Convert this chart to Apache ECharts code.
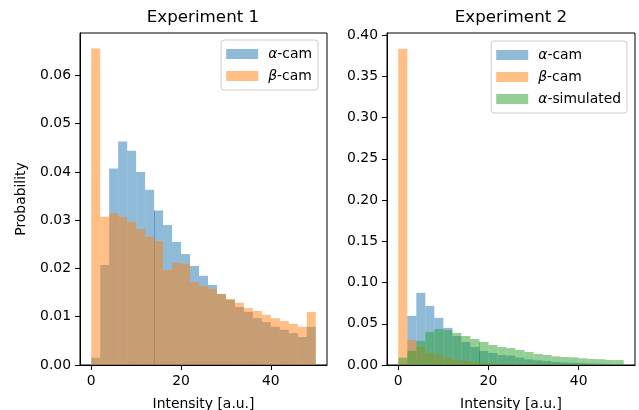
<!DOCTYPE html>
<html>
<head>
<meta charset="utf-8">
<script src="https://cdn.jsdelivr.net/npm/echarts@6/dist/echarts.min.js"></script>
<style>
  html, body { margin: 0; padding: 0; background: #fff; }
  #chart { width: 639px; height: 410px; }
</style>
</head>
<body>
<div id="chart"></div>
<script>
// bin left edges, every bin is 2 units wide
var bins = [0, 2, 4, 6, 8, 10, 12, 14, 16, 18, 20, 22, 24, 26, 28, 30, 32, 34, 36, 38, 40, 42, 44, 46, 48];
var binWidth = 2;

// Experiment 1
var exp1Alpha = [0.0015, 0.0207, 0.0407, 0.0463, 0.0444, 0.0400, 0.0363, 0.0320, 0.0290, 0.0255, 0.0230, 0.0205, 0.0185,
                 0.0166, 0.0147, 0.0135, 0.0120, 0.0110, 0.0097, 0.0089, 0.0079, 0.0073, 0.0066, 0.0058, 0.0079];
var exp1Beta = [0.0656, 0.0307, 0.0315, 0.0307, 0.0297, 0.0282, 0.0266, 0.0257, 0.0197, 0.0212, 0.0210, 0.0172, 0.0164,
                0.0158, 0.0147, 0.0137, 0.0129, 0.0118, 0.0112, 0.0104, 0.0097, 0.0091, 0.0085, 0.0079, 0.0110];

// Experiment 2
var exp2Alpha = [0.0000, 0.0595, 0.0875, 0.0717, 0.0571, 0.0450, 0.0352, 0.0280, 0.0219, 0.0170, 0.0146, 0.0122, 0.0115,
                 0.0089, 0.0069, 0.0057, 0.0049, 0.0036, 0.0030, 0.0026, 0.0022, 0.0018, 0.0015, 0.0012, 0.0010];
var exp2Beta = [0.3834, 0.0304, 0.0219, 0.0146, 0.0122, 0.0085, 0.0060, 0.0050, 0.0036, 0.0024, 0.0020, 0.0016, 0.0013,
                0.0011, 0.0010, 0.0009, 0.0008, 0.0007, 0.0006, 0.0006, 0.0005, 0.0005, 0.0004, 0.0004, 0.0004];
var exp2Sim = [0.0089, 0.0170, 0.0292, 0.0401, 0.0437, 0.0425, 0.0389, 0.0352, 0.0316, 0.0280, 0.0243, 0.0219, 0.0205,
               0.0182, 0.0158, 0.0134, 0.0122, 0.0105, 0.0097, 0.0093, 0.0081, 0.0073, 0.0070, 0.0061, 0.0060];

// tick labels
var xTicks = [0, 20, 40];
var y1Ticks = [0, 0.01, 0.02, 0.03, 0.04, 0.05, 0.06];
var y2Ticks = [0, 0.05, 0.10, 0.15, 0.20, 0.25, 0.30, 0.35, 0.40];

// thin seams where bar edges overlap: [x, top of blue/green, top of orange]
var seam1 = [14, 0.0320, 0.0257];
var seam2 = [18, 0.0280, 0.0170];

var FONT = 'DejaVu Sans';
var colAlpha = 'rgba(31,119,180,0.5)';
var colBeta = 'rgba(255,127,14,0.5)';
var colSim = 'rgba(44,160,44,0.5)';

function histData(values) {
  var out = [];
  for (var i = 0; i < bins.length; i++) {
    out.push([bins[i], bins[i] + binWidth, values[i]]);
  }
  return out;
}

function renderBar(params, api) {
  var p0 = api.coord([api.value(0), api.value(2)]);
  var p1 = api.coord([api.value(1), 0]);
  return {
    type: 'rect',
    shape: { x: p0[0], y: p0[1], width: p1[0] - p0[0], height: p1[1] - p0[1] },
    style: { fill: api.visual('color') }
  };
}

function seamLine(x, top, color) {
  return {
    silent: true,
    symbol: 'none',
    label: { show: false },
    lineStyle: { color: color, width: 1, type: 'solid' },
    data: [[{ coord: [x, 0] }, { coord: [x, top] }]]
  };
}

function histSeries(name, values, color, idx, seam) {
  return {
    type: 'custom',
    name: name,
    xAxisIndex: idx,
    yAxisIndex: idx,
    renderItem: renderBar,
    encode: { x: [0, 1], y: 2 },
    itemStyle: { color: color },
    data: histData(values),
    markLine: seam
  };
}

function xAxisOpt(idx) {
  return {
    type: 'value',
    gridIndex: idx,
    min: -2.5,
    max: 52.5,
    name: 'Intensity [a.u.]',
    nameLocation: 'middle',
    nameGap: 32,
    nameTextStyle: { fontFamily: FONT, fontSize: 13.9, color: '#000' },
    axisLine: { show: true, onZero: false, lineStyle: { color: '#000', width: 1 } },
    axisTick: { show: true, inside: false, length: 5, customValues: xTicks, lineStyle: { color: '#000', width: 1 } },
    axisLabel: { customValues: xTicks, margin: 9, fontFamily: FONT, fontSize: 13.9, color: '#000' },
    splitLine: { show: false }
  };
}

function yAxisOpt(idx, max, ticks) {
  var o = {
    type: 'value',
    gridIndex: idx,
    min: 0,
    max: max,
    axisLine: { show: true, onZero: false, lineStyle: { color: '#000', width: 1 } },
    axisTick: { show: true, inside: false, length: 5, customValues: ticks, lineStyle: { color: '#000', width: 1 } },
    axisLabel: {
      customValues: ticks, margin: 9, fontFamily: FONT, fontSize: 13.9, color: '#000',
      formatter: function (v) { return v.toFixed(2); }
    },
    splitLine: { show: false }
  };
  if (idx === 0) {
    o.name = 'Probability';
    o.nameLocation = 'middle';
    o.nameGap = 52;
    o.nameTextStyle = { fontFamily: FONT, fontSize: 13.9, color: '#000' };
  }
  return o;
}

function legendOpt(names, right, top) {
  return {
    data: names,
    right: right,
    top: top,
    orient: 'vertical',
    icon: 'rect',
    itemWidth: 32,
    itemHeight: 10,
    itemGap: 8,
    padding: [7, 6, 7, 5],
    backgroundColor: 'rgba(255,255,255,0.8)',
    borderColor: '#cccccc',
    borderWidth: 1,
    borderRadius: 3,
    selectedMode: false,
    formatter: function (name) {
      return '{i|' + name.charAt(0) + '}' + name.slice(1);
    },
    textStyle: {
      fontFamily: FONT, fontSize: 13.9, color: '#000', lineHeight: 14, padding: [0, 0, 0, 5],
      rich: { i: { fontFamily: FONT, fontSize: 13.9, fontStyle: 'italic', color: '#000' } }
    }
  };
}

var chart = echarts.init(document.getElementById('chart'), null, { renderer: 'canvas' });

var option = {
  animation: false,
  backgroundColor: '#fff',
  title: [
    { text: 'Experiment 1', left: 203, top: 8, textAlign: 'center', padding: 0,
      textStyle: { fontFamily: FONT, fontSize: 16.7, fontWeight: 'normal', color: '#000', lineHeight: 20 } },
    { text: 'Experiment 2', left: 511, top: 8, textAlign: 'center', padding: 0,
      textStyle: { fontFamily: FONT, fontSize: 16.7, fontWeight: 'normal', color: '#000', lineHeight: 20 } }
  ],
  legend: [
    legendOpt(['α-cam', 'β-cam'], 321, 40),
    legendOpt(['α-cam', 'β-cam', 'α-simulated'], 12, 41)
  ],
  grid: [
    { left: 80, right: 312, top: 33, bottom: 45, show: true, borderColor: '#000', borderWidth: 1,
      backgroundColor: 'transparent', outerBoundsMode: 'none' },
    { left: 387, right: 4, top: 33, bottom: 45, show: true, borderColor: '#000', borderWidth: 1,
      backgroundColor: 'transparent', outerBoundsMode: 'none' }
  ],
  xAxis: [xAxisOpt(0), xAxisOpt(1)],
  yAxis: [yAxisOpt(0, 0.0688, y1Ticks), yAxisOpt(1, 0.4025, y2Ticks)],
  series: [
    histSeries('α-cam', exp1Alpha, colAlpha, 0, seamLine(seam1[0], seam1[1], colAlpha)),
    histSeries('β-cam', exp1Beta, colBeta, 0, seamLine(seam1[0], seam1[2], colBeta)),
    histSeries('α-cam', exp2Alpha, colAlpha, 1, seamLine(seam2[0], seam2[2], colAlpha)),
    histSeries('β-cam', exp2Beta, colBeta, 1, null),
    histSeries('α-simulated', exp2Sim, colSim, 1, seamLine(seam2[0], seam2[1], colSim))
  ]
};

chart.setOption(option);
</script>
</body>
</html>
